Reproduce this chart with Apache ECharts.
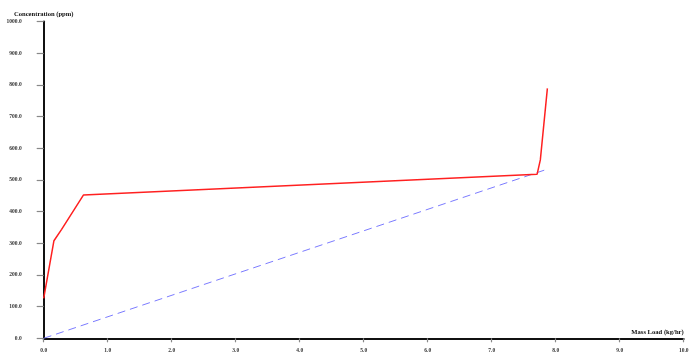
<!DOCTYPE html>
<html><head><meta charset="utf-8">
<script src="https://cdn.jsdelivr.net/npm/echarts@6/dist/echarts.min.js"></script>
<style>html,body{margin:0;padding:0;background:#fff}#c{width:692px;height:360px}</style>
</head><body><div id="c"></div>
<script>
var redX = [0, 0.16, 0.28, 0.62, 7.71, 7.76, 7.87];
var redY = [126, 308, 344, 452, 518, 563, 789];
var blueX = [0, 7.87];
var blueY = [0, 534];
var xName = 'Mass Load (kg/hr)';
var yName = 'Concentration (ppm)';

function pairs(xs, ys){ return xs.map(function(x,i){ return [x, ys[i]]; }); }

var chart = echarts.init(document.getElementById('c'), null, {renderer:'canvas'});
var fontF = '"Liberation Serif", "DejaVu Serif", serif';
chart.setOption({
  animation:false,
  backgroundColor:'#fff',
  grid:{left:43.7, right:8.3, top:21.5, bottom:21.7, containLabel:false},
  xAxis:{
    type:'value', min:0, max:10, interval:1,
    name:xName, nameLocation:'end', nameGap:0,
    nameTextStyle:{fontFamily:fontF, fontWeight:'bold', fontSize:6.6, color:'#111', align:'right', verticalAlign:'bottom', padding:[0,0,3,0]},
    axisLine:{show:true, lineStyle:{color:'#111', width:2}},
    axisTick:{show:true, length:4, lineStyle:{color:'#888', width:1.2}},
    axisLabel:{fontFamily:fontF, fontWeight:'bold', fontSize:5.5, color:'#333', margin:9, formatter:function(v){return v.toFixed(1);}},
    splitLine:{show:false}
  },
  yAxis:{
    type:'value', min:0, max:1000, interval:100,
    name:yName, nameLocation:'end', nameGap:4,
    nameTextStyle:{fontFamily:fontF, fontWeight:'bold', fontSize:6.6, color:'#111'},
    axisLine:{show:true, lineStyle:{color:'#111', width:2}},
    axisTick:{show:true, length:7, lineStyle:{color:'#888', width:1.2}},
    axisLabel:{fontFamily:fontF, fontWeight:'bold', fontSize:5.5, color:'#333', margin:22, formatter:function(v){return v.toFixed(1);}},
    splitLine:{show:false}
  },
  series:[
    {type:'line', data:pairs(blueX, blueY), symbol:'none', z:2,
     lineStyle:{color:'#7b7bff', width:1, type:[8,5]}},
    {type:'line', data:pairs(redX, redY), symbol:'none', z:3,
     lineStyle:{color:'#ff2020', width:1.5}}
  ]
});
</script></body></html>
